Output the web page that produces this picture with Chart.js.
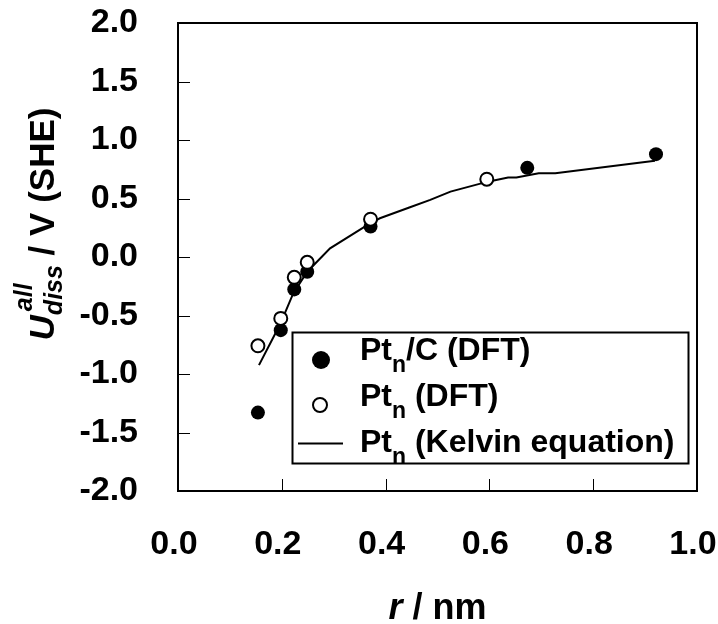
<!DOCTYPE html>
<html>
<head>
<meta charset="utf-8">
<script src="https://cdn.jsdelivr.net/npm/chart.js@4.4.1/dist/chart.umd.min.js"></script>
<style>
  html, body { margin: 0; padding: 0; background: #fff; }
  #wrap { width: 718px; height: 624px; position: relative; }
</style>
</head>
<body>
<div id="wrap"><canvas id="chart"></canvas></div>
<script>
// r / nm and U_diss^all / V (SHE)
const ptcR = [0.154, 0.198, 0.224, 0.249, 0.371, 0.673, 0.921];
const ptcU = [-1.33, -0.625, -0.277, -0.126, 0.26, 0.762, 0.879];

const ptR = [0.154, 0.198, 0.224, 0.249, 0.371, 0.595];
const ptU = [-0.759, -0.525, -0.174, -0.045, 0.323, 0.665];

const kelvinR = [0.156, 0.197, 0.222, 0.249, 0.293, 0.370, 0.389, 0.447, 0.486, 0.525, 0.597, 0.636, 0.652, 0.695, 0.727, 0.919];
const kelvinU = [-0.924, -0.573, -0.311, -0.126, 0.074, 0.288, 0.331, 0.425, 0.488, 0.559, 0.644, 0.679, 0.679, 0.716, 0.716, 0.822];

const xTickLabels = ['0.0', '0.2', '0.4', '0.6', '0.8', '1.0'];
const yTickLabels = ['-2.0', '-1.5', '-1.0', '-0.5', '0.0', '0.5', '1.0', '1.5', '2.0'];

const FONT = "'Liberation Sans', Arial, Helvetica, sans-serif";

function pts(xs, ys) {
    return xs.map((x, i) => ({ x: x, y: ys[i] }));
}

// box, inward ticks, axis titles and legend
const decor = {
    id: 'decor',
    afterDraw(chart) {
        const ctx = chart.ctx;
        const a = chart.chartArea;
        const xs = chart.scales.x, ys = chart.scales.y;
        ctx.save();
        ctx.strokeStyle = '#000';

        // inner ticks
        ctx.lineWidth = 1;
        ctx.beginPath();
        xs.ticks.forEach(t => {
            if (t.value <= xs.min || t.value >= xs.max) return;
            const p = Math.round(xs.getPixelForValue(t.value)) + 0.5;
            ctx.moveTo(p, a.bottom);
            ctx.lineTo(p, a.bottom - 12);
        });
        ys.ticks.forEach(t => {
            if (t.value <= ys.min || t.value >= ys.max) return;
            const p = Math.round(ys.getPixelForValue(t.value)) + 0.5;
            ctx.moveTo(a.left, p);
            ctx.lineTo(a.left + 12, p);
        });
        ctx.stroke();

        // frame
        ctx.lineWidth = 2;
        ctx.strokeRect(a.left, a.top, a.right - a.left, a.bottom - a.top);

        ctx.fillStyle = '#000';
        ctx.textBaseline = 'alphabetic';
        ctx.textAlign = 'left';

        // x title: r / nm
        const xParts = [
            { t: 'r', f: 'italic bold 36px ' + FONT },
            { t: ' / nm', f: 'bold 36px ' + FONT }
        ];
        let w = 0;
        xParts.forEach(p => { ctx.font = p.f; w += ctx.measureText(p.t).width; });
        let cx = (a.left + a.right) / 2 - w / 2;
        xParts.forEach(p => {
            ctx.font = p.f;
            ctx.fillText(p.t, cx, 619);
            cx += ctx.measureText(p.t).width;
        });

        // y title: U_diss^all / V (SHE)
        ctx.save();
        ctx.translate(54, 224);
        ctx.rotate(-Math.PI / 2);
        const fMainI = 'italic bold 35px ' + FONT;
        const fMain = 'bold 35px ' + FONT;
        const fSmall = 'italic bold 25px ' + FONT;
        ctx.font = fMainI; const wU = ctx.measureText('U').width;
        ctx.font = fSmall; const wSub = ctx.measureText('diss').width;
        const wSup = ctx.measureText('all').width;
        ctx.font = fMain; const wRest = ctx.measureText(' / V (SHE)').width;
        const total = wU + Math.max(wSub, wSup) + wRest;
        let px = -total / 2;
        ctx.font = fMainI; ctx.fillText('U', px, 0); px += wU;
        ctx.font = fSmall;
        ctx.fillText('diss', px, 8);
        ctx.fillText('all', px + 4, -22);
        px += Math.max(wSub, wSup);
        ctx.font = fMain; ctx.fillText(' / V (SHE)', px, 0);
        ctx.restore();

        // legend box
        const lx = 292.5, ly = 332.5, lw = 396, lh = 131;
        ctx.fillStyle = '#fff';
        ctx.fillRect(lx, ly, lw, lh);
        ctx.lineWidth = 2;
        ctx.strokeStyle = '#000';
        ctx.strokeRect(lx, ly, lw, lh);

        // markers
        ctx.fillStyle = '#000';
        ctx.beginPath(); ctx.arc(321, 360, 9, 0, Math.PI * 2); ctx.fill();
        ctx.fillStyle = '#fff';
        ctx.lineWidth = 2;
        ctx.beginPath(); ctx.arc(320, 405, 7, 0, Math.PI * 2); ctx.fill(); ctx.stroke();
        ctx.beginPath(); ctx.moveTo(298, 443.5); ctx.lineTo(343, 443.5); ctx.stroke();

        // entries
        ctx.fillStyle = '#000';
        const rows = [
            { y: 360, rest: '/C (DFT)' },
            { y: 406, rest: ' (DFT)' },
            { y: 452, rest: ' (Kelvin equation)' }
        ];
        rows.forEach(r => {
            let tx = 360;
            ctx.font = 'bold 32px ' + FONT;
            ctx.fillText('Pt', tx, r.y);
            tx += ctx.measureText('Pt').width;
            ctx.font = 'bold 23px ' + FONT;
            ctx.fillText('n', tx, r.y + 12);
            tx += ctx.measureText('n').width;
            ctx.font = 'bold 32px ' + FONT;
            ctx.fillText(r.rest, tx, r.y);
        });
        ctx.restore();
    }
};

new Chart(document.getElementById('chart'), {
    type: 'scatter',
    data: {
        datasets: [
            {
                label: 'Ptn (DFT)',
                data: pts(ptR, ptU),
                pointRadius: 6.5,
                pointBorderWidth: 2,
                pointBackgroundColor: '#fff',
                pointBorderColor: '#000',
                order: 1
            },
            {
                label: 'Ptn/C (DFT)',
                data: pts(ptcR, ptcU),
                pointRadius: 7,
                pointBorderWidth: 0,
                pointBackgroundColor: '#000',
                pointBorderColor: '#000',
                order: 2
            },
            {
                label: 'Ptn (Kelvin equation)',
                data: pts(kelvinR, kelvinU),
                showLine: true,
                borderColor: '#000',
                borderWidth: 2,
                pointRadius: 0,
                tension: 0,
                order: 3
            }
        ]
    },
    options: {
        responsive: true,
        maintainAspectRatio: false,
        animation: false,
        devicePixelRatio: 1,
        layout: { padding: { top: 23, right: 21, left: 0, bottom: 0 } },
        plugins: {
            legend: { display: false },
            tooltip: { enabled: false }
        },
        scales: {
            x: {
                type: 'linear',
                min: 0, max: 1,
                grid: { display: false, drawTicks: false },
                border: { display: false },
                ticks: {
                    stepSize: 0.2,
                    padding: 33,
                    labelOffset: -4,
                    maxRotation: 0,
                    color: '#000',
                    font: { family: FONT, size: 34, weight: 'bold' },
                    callback: (v, i) => xTickLabels[i]
                },
                afterFit(s) { s.height = 133; s.paddingLeft = 0; s.paddingRight = 0; }
            },
            y: {
                type: 'linear',
                min: -2, max: 2,
                grid: { display: false, drawTicks: false },
                border: { display: false },
                ticks: {
                    stepSize: 0.5,
                    padding: 40,
                    color: '#000',
                    font: { family: FONT, size: 34, weight: 'bold' },
                    callback: (v, i) => yTickLabels[i]
                },
                afterFit(s) { s.width = 178; s.paddingTop = 0; s.paddingBottom = 0; }
            }
        }
    },
    plugins: [decor]
});
</script>
</body>
</html>
